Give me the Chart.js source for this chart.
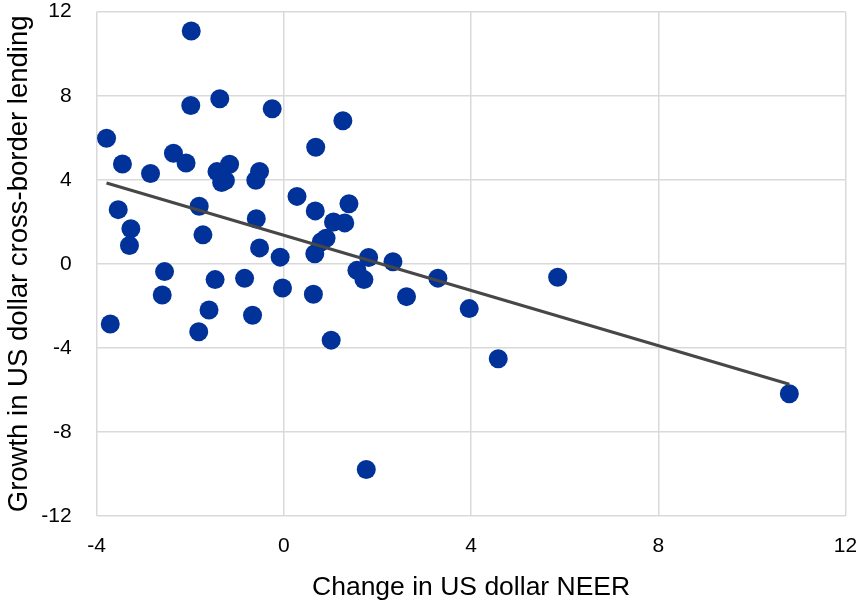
<!DOCTYPE html>
<html>
<head>
<meta charset="utf-8">
<script src="https://cdn.jsdelivr.net/npm/chart.js@4/dist/chart.umd.min.js"></script>
<style>
  html, body { margin: 0; padding: 0; background: #ffffff; }
  #wrap { width: 856px; height: 602px; position: relative; }
</style>
</head>
<body>
<div id="wrap"><canvas id="c"></canvas></div>
<script>
// Change in US dollar NEER (x) against growth in US dollar cross-border lending (y)
const neerChange = [
  -1.98, -1.99, -1.37, -0.25, 1.26, -3.79, 0.68, -3.45, -2.36, -2.09,
  -2.85, -1.43, -1.16, -1.33, -1.25, -0.52, -0.60, -3.54, -3.27, -3.30,
  -1.81, -1.73, -0.59, -0.52, -0.08, 0.28, 0.67, 1.39, 1.06, 1.30,
  0.80, 0.90, 0.66, 1.81, 1.56, 1.71, 2.33, 3.29, 0.63, 2.62,
  3.96, 1.01, 4.58, 5.85, 1.76, 10.80, -2.55, -2.60, -3.71, -1.47,
  -0.84, -1.60, -0.67, -1.82, -0.03
];
const lendingGrowth = [
  11.08, 7.54, 7.86, 7.38, 6.81, 5.98, 5.55, 4.75, 5.26, 4.80,
  4.30, 4.39, 4.74, 3.87, 3.97, 4.40, 3.98, 2.58, 1.67, 0.87,
  2.74, 1.38, 2.15, 0.76, 0.32, 3.21, 2.52, 2.86, 1.99, 1.95,
  1.05, 1.22, 0.48, 0.30, -0.31, -0.75, 0.10, -0.68, -1.45, -1.56,
  -2.13, -3.63, -4.52, -0.64, -9.79, -6.18, -0.37, -1.48, -2.86, -0.75,
  -0.69, -2.20, -2.45, -3.23, -1.15
];
// Fitted line, from the smallest to the largest NEER change
const trendX = [-3.79, 10.80];
const trendY = [3.85, -5.73];

const xTicks = [-4, 0, 4, 8, 12];
const yTicks = [-12, -8, -4, 0, 4, 8, 12];

const points = neerChange.map((x, i) => ({ x: x, y: lendingGrowth[i] }));
const trend = trendX.map((x, i) => ({ x: x, y: trendY[i] }));

const gridColor = '#d9d9d9';
const fontFamily = '"Liberation Sans", Arial, sans-serif';

// Fixed axis boxes so the plot area keeps its place on the canvas
const Y_AXIS_WIDTH = 96.7;
const X_AXIS_HEIGHT = 86;
function noOverflow(scale) {
  scale.paddingLeft = 0;
  scale.paddingRight = 0;
  scale.paddingTop = 0;
  scale.paddingBottom = 0;
}

new Chart(document.getElementById('c'), {
  type: 'scatter',
  data: {
    datasets: [
      {
        type: 'line',
        data: trend,
        borderColor: '#474747',
        borderWidth: 3,
        pointRadius: 0,
        fill: false,
        order: 0
      },
      {
        data: points,
        backgroundColor: '#003299',
        borderWidth: 0,
        pointRadius: 9.5,
        pointHoverRadius: 9.5,
        order: 1
      }
    ]
  },
  options: {
    responsive: true,
    maintainAspectRatio: false,
    animation: false,
    events: [],
    layout: {
      autoPadding: false,
      padding: { top: 11.7, right: 10.5, left: 0, bottom: 0 }
    },
    plugins: {
      legend: { display: false },
      tooltip: { enabled: false }
    },
    scales: {
      x: {
        type: 'linear',
        min: -4,
        max: 12,
        afterBuildTicks: (axis) => { axis.ticks = xTicks.map(v => ({ value: v })); },
        afterFit: (scale) => { scale.height = X_AXIS_HEIGHT; noOverflow(scale); },
        grid: { color: gridColor, lineWidth: 1.5, drawTicks: false },
        border: { display: false },
        ticks: {
          padding: 18,
          color: '#000000',
          font: { family: fontFamily, size: 21 },
          maxRotation: 0
        },
        title: {
          display: true,
          text: 'Change in US dollar NEER',
          color: '#000000',
          font: { family: fontFamily, size: 26.5 },
          padding: { top: 4, bottom: -1.5 }
        }
      },
      y: {
        type: 'linear',
        min: -12,
        max: 12,
        afterBuildTicks: (axis) => { axis.ticks = yTicks.map(v => ({ value: v })); },
        afterFit: (scale) => { scale.width = Y_AXIS_WIDTH; noOverflow(scale); },
        grid: { color: gridColor, lineWidth: 1.5, drawTicks: false },
        border: { display: false },
        ticks: {
          padding: 25,
          color: '#000000',
          font: { family: fontFamily, size: 21 }
        },
        title: {
          display: true,
          text: 'Growth in US dollar cross-border lending',
          color: '#000000',
          font: { family: fontFamily, size: 27.5 },
          padding: { top: 2.5, bottom: 4 }
        }
      }
    }
  }
});
</script>
</body>
</html>
